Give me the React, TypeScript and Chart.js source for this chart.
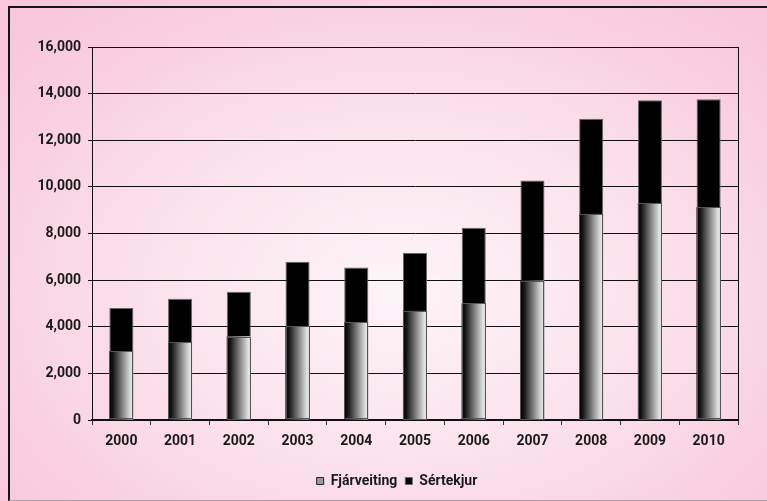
import React, { useEffect, useRef } from "react";
import { Chart, registerables } from "chart.js";

Chart.register(...registerables);

const years = ["2000", "2001", "2002", "2003", "2004", "2005", "2006", "2007", "2008", "2009", "2010"];
const fjarveiting = [2950, 3340, 3580, 4030, 4200, 4680, 5000, 5980, 8840, 9310, 9130];
const sertekjur = [1850, 1860, 1920, 2760, 2340, 2480, 3250, 4290, 4080, 4410, 4630];
const seriesNames = ["Fjárveiting", "Sértekjur"];
const yMax = 16000;
const yStep = 2000;

const FONT = { family: "Roboto, 'DejaVu Sans', sans-serif", size: 14, weight: "bold" as const };

const plotFrame = {
  id: "plotFrame",
  beforeDatasetsDraw(chart: any) {
    const { ctx, chartArea } = chart;
    ctx.save();
    ctx.strokeStyle = "#111";
    ctx.lineWidth = 1;
    ctx.strokeRect(
      Math.round(chartArea.left) + 0.5,
      Math.round(chartArea.top) + 0.5,
      Math.round(chartArea.right - chartArea.left),
      Math.round(chartArea.bottom - chartArea.top)
    );
    ctx.restore();
  },
};

const legendShift = {
  id: "legendShift",
  afterLayout(chart: any) {
    const l = chart.legend;
    if (!l) return;
    l.left += 24;
    l.right += 24;
  },
};

const gradientBars = {
  id: "gradientBars",
  afterDatasetDraw(chart: any, args: any) {
    if (args.index !== 0) return;
    const ctx = chart.ctx;
    args.meta.data.forEach((el: any) => {
      const { x, y, base, width } = el.getProps(["x", "y", "base", "width"], true);
      const left = x - width / 2;
      const g = ctx.createLinearGradient(left, 0, left + width, 0);
      g.addColorStop(0, "#000000");
      g.addColorStop(0.15, "#151515");
      g.addColorStop(0.55, "#858585");
      g.addColorStop(0.9, "#e4e4e4");
      g.addColorStop(1, "#d0d0d0");
      ctx.save();
      ctx.fillStyle = g;
      ctx.fillRect(left, y, width, base - y);
      ctx.strokeStyle = "#555";
      ctx.lineWidth = 1;
      ctx.strokeRect(Math.round(left) + 0.5, Math.round(y) + 0.5, Math.round(width) - 1, Math.round(base - y) - 1);
      ctx.restore();
    });
  },
};

export default function App() {
  const canvasRef = useRef<HTMLCanvasElement | null>(null);

  useEffect(() => {
    if (!canvasRef.current) return;
    const chart = new Chart(canvasRef.current, {
      type: "bar",
      data: {
        labels: years,
        datasets: [
          {
            label: seriesNames[0],
            data: fjarveiting,
            backgroundColor: "#9a9a9a",
            borderColor: "#222",
            borderWidth: 1,
            categoryPercentage: 1,
            barPercentage: 0.41,
          },
          {
            label: seriesNames[1],
            data: sertekjur,
            backgroundColor: "#000000",
            borderColor: "#666",
            borderWidth: 1,
            categoryPercentage: 1,
            barPercentage: 0.41,
          },
        ],
      },
      options: {
        animation: false,
        responsive: false,
        maintainAspectRatio: false,
        layout: { padding: { left: 8, top: 47, right: 29, bottom: 3 } },
        plugins: {
          tooltip: { enabled: false },
          legend: {
            position: "bottom",
            labels: {
              boxWidth: 7,
              boxHeight: 7,
              padding: 8,
              color: "#1a1a1a",
              font: FONT,
            },
          },
        },
        scales: {
          x: {
            stacked: true,
            grid: {
              display: true,
              drawOnChartArea: false,
              drawTicks: true,
              tickLength: 5,
              color: "#333",
              offset: true,
            },
            border: { display: true, color: "#111", width: 2 },
            ticks: { color: "#1a1a1a", font: FONT, padding: 8 },
            afterFit: (s: any) => {
              s.height = 46;
            },
          },
          y: {
            stacked: true,
            min: 0,
            max: yMax,
            grid: { color: "#111", lineWidth: 1, tickLength: 4, drawTicks: true },
            border: { display: true, color: "#111", width: 1 },
            ticks: {
              stepSize: yStep,
              color: "#1a1a1a",
              font: FONT,
              padding: 7,
              callback: (v: any) => Number(v).toLocaleString("en-US"),
            },
            afterFit: (s: any) => {
              s.width = 84;
            },
          },
        },
      },
      plugins: [plotFrame, gradientBars, legendShift],
    });
    return () => chart.destroy();
  }, []);

  return (
    <div
      style={{
        position: "fixed",
        left: 0,
        top: 0,
        width: 767,
        height: 501,
        overflow: "hidden",
        background:
          "radial-gradient(ellipse 70% 75% at 52% 58%, #fdf4f8 0%, #fbe2ec 45%, #f9cfe0 80%, #f8c6da 100%)",
      }}
    >
      <div
        style={{
          position: "absolute",
          left: 8,
          top: 6,
          width: 800,
          height: 492,
          borderTop: "2px solid #151515",
          borderLeft: "2px solid #151515",
          borderBottom: "1px solid #a99aa2",
        }}
      />
      <canvas
        ref={canvasRef}
        width={767}
        height={501}
        style={{ position: "absolute", left: 0, top: 0, width: 767, height: 501 }}
      />
    </div>
  );
}
